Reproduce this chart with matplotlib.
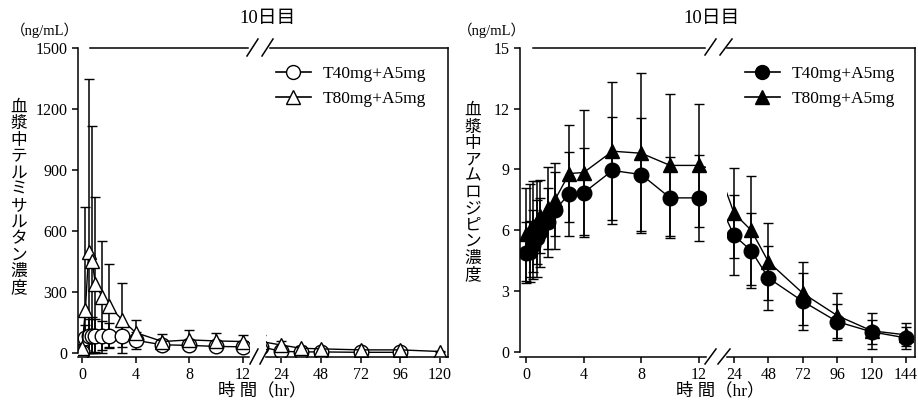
import numpy as np
import matplotlib.pyplot as plt
from matplotlib.lines import Line2D

plt.rcParams["font.family"] = ["Liberation Serif", "Noto Sans CJK JP"]
plt.rcParams["xtick.labelsize"] = 11.5
plt.rcParams["ytick.labelsize"] = 11.5
plt.rcParams["axes.linewidth"] = 1.1
plt.rcParams["xtick.major.width"] = 1.1
plt.rcParams["ytick.major.width"] = 1.1
plt.rcParams["xtick.major.size"] = 4
plt.rcParams["ytick.major.size"] = 4

# ---------------- data ----------------
# telmisartan (left panel)
t_tel = [0, 0.25, 0.5, 0.75, 1, 1.5, 2, 3, 4, 6, 8, 10, 12, 24, 36, 48, 72, 96, 120]
tel40_mean = [5, 75, 85, 85, 85, 85, 85, 83, 62, 40, 37, 32, 30, 8, 5, 5, 3, 3, np.nan]
tel40_sd = [3, 60, 80, 90, 80, 70, 60, 52, 42, 25, 20, 18, 15, 6, 4, 4, 3, 2, np.nan]
tel80_mean = [25, 211, 498, 454, 339, 277, 233, 162, 100, 56, 64, 59, 56, 39, 23, 20, 15, 15, 7]
tel80_sd = [20, 508, 848, 661, 428, 275, 204, 182, 62, 37, 49, 38, 32, 20, 12, 10, 8, 8, 4]

# amlodipine (right panel)
t_aml = [0, 0.25, 0.5, 0.75, 1, 1.5, 2, 3, 4, 6, 8, 10, 12, 24, 36, 48, 72, 96, 120, 144]
aml40_mean = [4.9, 4.95, 5.3, 5.6, 5.9, 6.4, 7.0, 7.8, 7.85, 8.95, 8.75, 7.6, 7.6,
              5.75, 5.0, 3.65, 2.5, 1.5, 1.0, 0.7]
aml40_sd = [1.5, 1.5, 1.7, 1.9, 1.7, 1.7, 1.9, 2.07, 2.2, 2.66, 2.8, 2.0, 2.13,
            1.97, 1.85, 1.56, 1.4, 0.88, 0.58, 0.55]
aml80_mean = [5.8, 6.0, 6.2, 6.4, 6.7, 7.1, 7.5, 8.8, 8.85, 9.9, 9.8, 9.2, 9.2,
              6.85, 6.0, 4.45, 2.9, 1.8, 1.05, 0.85]
aml80_sd = [2.3, 2.3, 2.25, 2.05, 1.8, 2.0, 1.8, 2.4, 3.1, 3.4, 3.95, 3.5, 3.05,
            2.2, 2.7, 1.9, 1.56, 1.1, 0.9, 0.57]

labels = ["T40mg+A5mg", "T80mg+A5mg"]
title = "10日目"
unit = "（ng/mL）"
xlabel = "時 間（hr）"
ylabel_tel = "血漿中テルミサルタン濃度"
ylabel_aml = "血漿中アムロジピン濃度"

# ---------------- layout helpers (pixels -> figure fraction) ----------------
W, H = 918, 409


def fx(x):
    return x / W


def fy(y):
    return 1 - y / H


def rect(x0, x1, top=47.7, bottom=357):
    return [fx(x0), fy(bottom), fx(x1) - fx(x0), fy(top) - fy(bottom)]


fig = plt.figure(figsize=(W / 100, H / 100), dpi=100)


def series(ax, t, m, sd, marker, face, ms, clip_low):
    m = np.array(m, dtype=float)
    sd = np.array(sd, dtype=float)
    lo = np.minimum(sd, m) if clip_low else sd
    ax.errorbar(t, m, yerr=[lo, sd], color="k", lw=1.0, marker=marker, ms=ms,
                mfc=face, mec="k", mew=1.0, elinewidth=1.1, capsize=3.6,
                capthick=1.1)


def panel(x_l, x_r, lim_l, lim_r, ticks_r, ylim, yticks, data, face, clip_low):
    axl = fig.add_axes(rect(*x_l))
    axr = fig.add_axes(rect(*x_r))
    for ax in (axl, axr):
        t, m1, s1, m2, s2 = data
        series(ax, t, m1, s1, "o", face, 10.5, clip_low)
        series(ax, t, m2, s2, "^", face, 10.5, clip_low)
        ax.set_ylim(*ylim)
        ax.spines["top"].set_visible(False)
        ax.tick_params(direction="out")
    axl.set_xlim(*lim_l)
    axl.set_xticks([0, 4, 8, 12])
    axl.set_yticks(yticks)
    axl.spines["right"].set_visible(False)
    axl.spines["left"].set_bounds(0, ylim[1])
    axr.set_xlim(*lim_r)
    axr.set_xticks(ticks_r)
    axr.set_yticks([])
    axr.spines["left"].set_visible(False)
    return axl, axr


def seg(x0, y0, x1, y1):
    fig.add_artist(Line2D([fx(x0), fx(x1)], [fy(y0), fy(y1)], color="k", lw=1.1))


# left panel
panel((78, 249), (266, 448), (-0.3, 12.46), (14.9, 124.8), [24, 48, 72, 96, 120],
      (-20, 1500), [0, 300, 600, 900, 1200, 1500],
      (t_tel, tel40_mean, tel40_sd, tel80_mean, tel80_sd), "white", True)
# right panel
panel((520, 706), (727, 915), (-0.42, 12.49), (19.1, 150.2),
      [24, 48, 72, 96, 120, 144], (-0.24, 15), [0, 3, 6, 9, 12, 15],
      (t_aml, aml40_mean, aml40_sd, aml80_mean, aml80_sd), "black", False)

# top frame lines and break marks
seg(90, 47.7, 248, 47.7)
seg(270, 47.7, 448, 47.7)
seg(247, 56, 258, 39)
seg(262, 56, 273, 39)
seg(250, 364, 258, 349)
seg(260, 364, 268, 349)

seg(533, 47.7, 705, 47.7)
seg(727, 47.7, 915, 47.7)
seg(705, 55, 716, 39)
seg(720, 55, 732, 39)
seg(705, 364, 716, 349)
seg(718, 364, 730, 349)

# texts
for cx, ylab, unit_x, xl_x in [(268, ylabel_tel, 45, 262),
                               (712, ylabel_aml, 492, 720)]:
    fig.text(fx(cx), fy(18), title, ha="center", va="center", fontsize=13.5)
    fig.text(fx(unit_x), fy(30), unit, ha="center", va="center", fontsize=10.5)
    fig.text(fx(xl_x), fy(391), xlabel, ha="center", va="center", fontsize=12.5)

fig.text(fx(19), fy(198), "\n".join(ylabel_tel), ha="center", va="center",
         fontsize=12, linespacing=1.03)
fig.text(fx(473), fy(193), "\n".join(ylabel_aml), ha="center", va="center",
         fontsize=12, linespacing=1.03)

# legends
for x0, face in [(276, "white"), (745, "black")]:
    handles = [
        Line2D([], [], color="k", lw=1.2, marker="o", ms=10, mfc=face, mec="k"),
        Line2D([], [], color="k", lw=1.2, marker="^", ms=10, mfc=face, mec="k"),
    ]
    fig.legend(handles, labels, loc="upper left", bbox_to_anchor=(fx(x0), fy(66)),
               frameon=False, fontsize=12.5, handlelength=2.0, handletextpad=0.7,
               labelspacing=0.52, borderpad=0, borderaxespad=0)

fig.savefig("out.png", dpi=100)
